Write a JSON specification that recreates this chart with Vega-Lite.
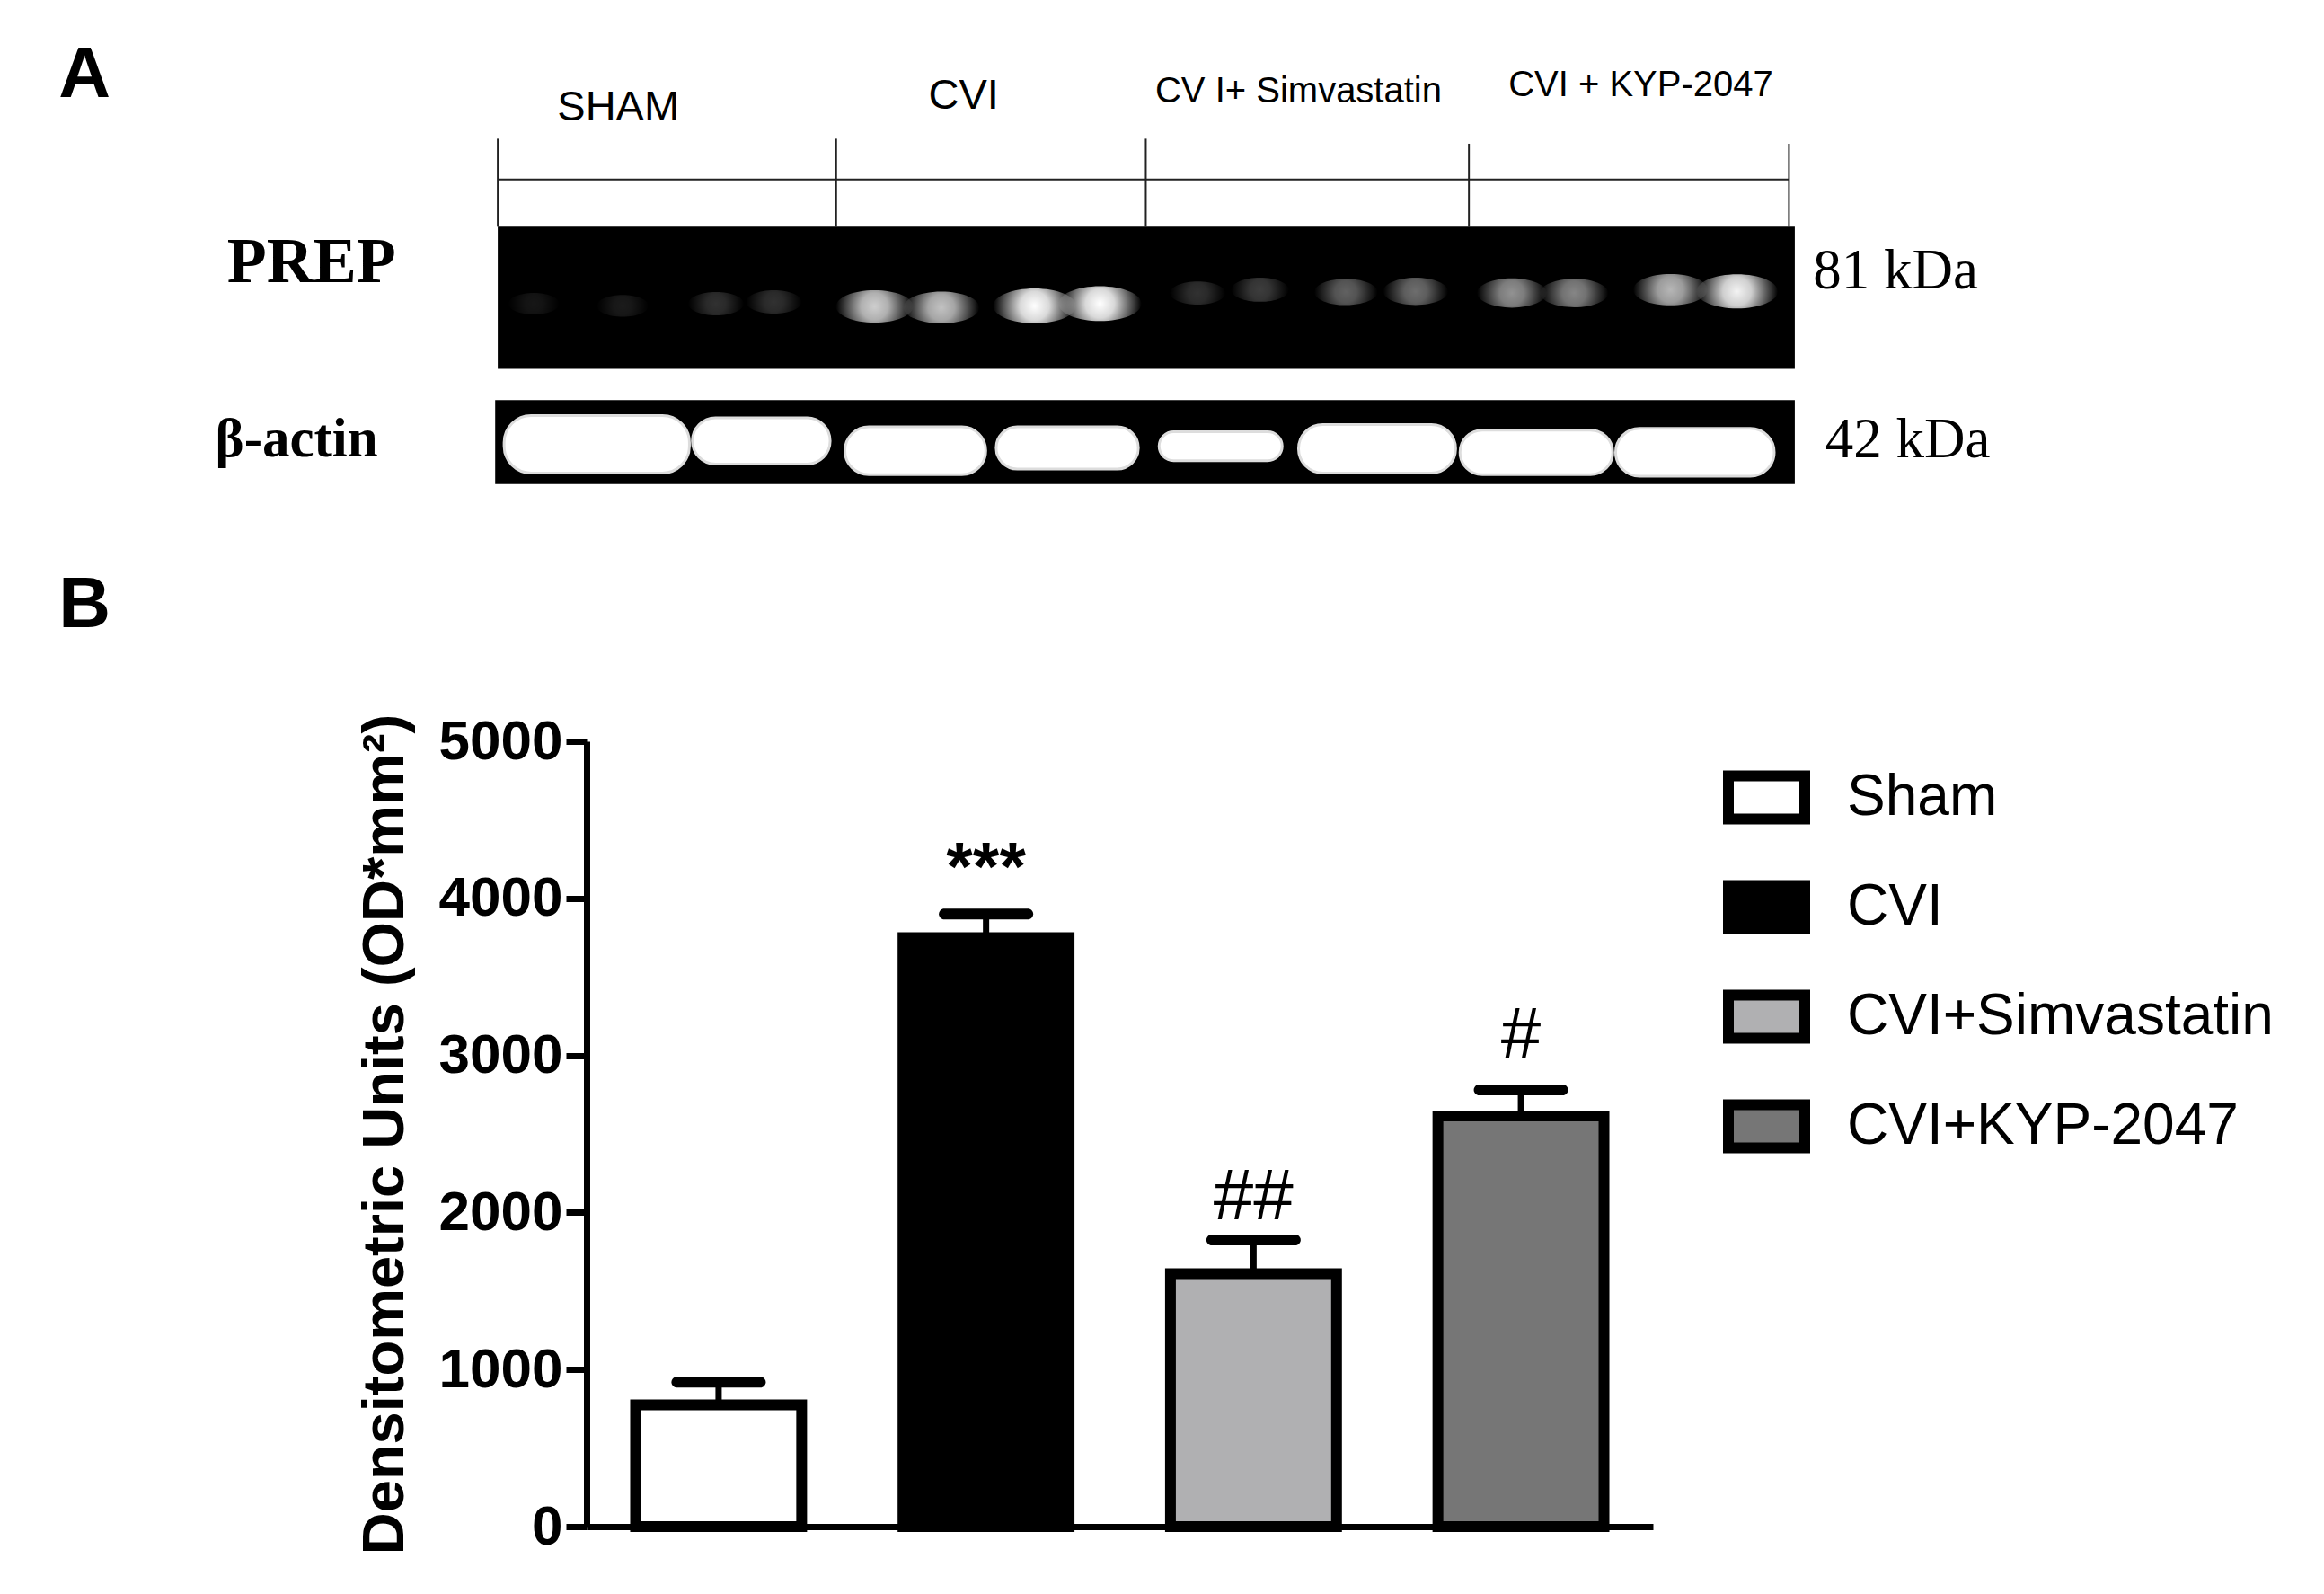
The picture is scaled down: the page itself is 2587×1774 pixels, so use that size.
{
  "$schema": "https://vega.github.io/schema/vega-lite/v6.json",
  "background": "white",
  "padding": {"left": 65, "top": 0, "right": 10, "bottom": 50},
  "bounds": "flush",
  "spacing": 205,
  "config": {
    "view": {"stroke": null},
    "text": {"color": "black"}
  },
  "vconcat": [
    {
      "width": 1187,
      "height": 620,
      "encoding": {
        "x": {"field": "lane", "type": "quantitative", "axis": null, "scale": {"domain": [0.548, 7.125], "nice": false, "zero": false}},
        "y": {"field": "pos", "type": "quantitative", "axis": null, "scale": {"domain": [100, 0], "nice": false, "zero": false}}
      },
      "layer": [
        {
          "data": {"values": [
            {"lane": 0, "lane2": 0, "pos": 24.9, "pos2": 40.7},
            {"lane": 2.087, "lane2": 2.087, "pos": 24.9, "pos2": 40.7},
            {"lane": 3.997, "lane2": 3.997, "pos": 24.9, "pos2": 40.7},
            {"lane": 5.99, "lane2": 5.99, "pos": 25.8, "pos2": 40.7},
            {"lane": 7.964, "lane2": 7.964, "pos": 25.8, "pos2": 40.7},
            {"lane": 0, "lane2": 7.964, "pos": 32.2, "pos2": 32.2}
          ]},
          "mark": {"type": "rule", "stroke": "#222222", "strokeWidth": 2},
          "encoding": {
            "x2": {"field": "lane2"},
            "y2": {"field": "pos2"}
          }
        },
        {
          "data": {"values": [
            {"blot": "PREP", "lane": 0, "lane2": 8, "pos": 40.7, "pos2": 66.2},
            {"blot": "b-actin", "lane": -0.016, "lane2": 8, "pos": 71.8, "pos2": 86.9}
          ]},
          "mark": {"type": "rect", "fill": "black"},
          "encoding": {
            "x2": {"field": "lane2"},
            "y2": {"field": "pos2"}
          }
        },
        {
          "data": {"values": [
            {"lane": 0.222, "pos": 54.5, "intensity": 0.04},
            {"lane": 0.77, "pos": 54.9, "intensity": 0.06},
            {"lane": 1.346, "pos": 54.5, "intensity": 0.15},
            {"lane": 1.703, "pos": 54.2, "intensity": 0.15},
            {"lane": 2.324, "pos": 55, "intensity": 0.8},
            {"lane": 2.736, "pos": 55.2, "intensity": 0.75},
            {"lane": 3.311, "pos": 54.9, "intensity": 1},
            {"lane": 3.714, "pos": 54.5, "intensity": 1},
            {"lane": 4.317, "pos": 52.6, "intensity": 0.15},
            {"lane": 4.701, "pos": 52, "intensity": 0.2},
            {"lane": 5.231, "pos": 52.4, "intensity": 0.35},
            {"lane": 5.661, "pos": 52.3, "intensity": 0.4},
            {"lane": 6.255, "pos": 52.6, "intensity": 0.55},
            {"lane": 6.639, "pos": 52.6, "intensity": 0.5},
            {"lane": 7.233, "pos": 52, "intensity": 0.7},
            {"lane": 7.644, "pos": 52.3, "intensity": 0.95}
          ]},
          "mark": {
            "type": "point",
            "filled": true,
            "shape": "M-1,0A1,0.42,0,1,1,1,0A1,0.42,0,1,1,-1,0Z",
            "fill": {
              "gradient": "radial",
              "stops": [
                {"offset": 0, "color": "rgba(255,255,255,1)"},
                {"offset": 0.35, "color": "rgba(255,255,255,0.85)"},
                {"offset": 1, "color": "rgba(255,255,255,0)"}
              ]
            }
          },
          "encoding": {
            "size": {"field": "intensity", "type": "quantitative", "legend": null, "scale": {"domain": [0, 1], "range": [3000, 8500]}},
            "opacity": {"field": "intensity", "type": "quantitative", "legend": null, "scale": {"domain": [0, 1], "range": [0.05, 1]}}
          }
        },
        {
          "data": {"values": [
            {"lane": 0.039, "lane2": 1.182, "pos": 74.6, "pos2": 84.9},
            {"lane": 1.2, "lane2": 2.05, "pos": 75, "pos2": 83.3},
            {"lane": 2.141, "lane2": 3.01, "pos": 76.6, "pos2": 85.2},
            {"lane": 3.074, "lane2": 3.951, "pos": 76.6, "pos2": 84.2},
            {"lane": 4.079, "lane2": 4.838, "pos": 77.5, "pos2": 82.7},
            {"lane": 4.939, "lane2": 5.908, "pos": 76.2, "pos2": 84.9},
            {"lane": 5.935, "lane2": 6.877, "pos": 77.2, "pos2": 85.2},
            {"lane": 6.895, "lane2": 7.873, "pos": 76.9, "pos2": 85.5}
          ]},
          "mark": {"type": "rect", "fill": "white", "stroke": "#dddddd", "strokeWidth": 3, "cornerRadius": 30},
          "encoding": {
            "x2": {"field": "lane2"},
            "y2": {"field": "pos2"}
          }
        },
        {
          "data": {"values": [
            {"label": "A", "lane": -2.548, "pos": 13.6},
            {"label": "B", "lane": -2.548, "pos": 108.7}
          ]},
          "mark": {"type": "text", "font": "Liberation Sans", "fontWeight": "bold", "fontSize": 80, "baseline": "middle"},
          "encoding": {"text": {"field": "label"}}
        },
        {
          "data": {"values": [
            {"label": "SHAM", "lane": 0.743, "pos": 19.4},
            {"label": "CVI", "lane": 2.873, "pos": 17.3}
          ]},
          "mark": {"type": "text", "font": "Liberation Sans", "fontSize": 47, "baseline": "middle"},
          "encoding": {"text": {"field": "label"}}
        },
        {
          "data": {"values": [
            {"label": "CV I+ Simvastatin", "lane": 4.939, "pos": 16.5},
            {"label": "CVI + KYP-2047", "lane": 7.05, "pos": 15.4}
          ]},
          "mark": {"type": "text", "font": "Liberation Sans", "fontSize": 40, "baseline": "middle"},
          "encoding": {"text": {"field": "label"}}
        },
        {
          "data": {"values": [{"label": "PREP", "lane": -1.149, "pos": 47.1}]},
          "mark": {"type": "text", "font": "Liberation Serif", "fontWeight": "bold", "fontSize": 72, "baseline": "middle"},
          "encoding": {"text": {"field": "label"}}
        },
        {
          "data": {"values": [{"label": "β-actin", "lane": -1.241, "pos": 79}]},
          "mark": {"type": "text", "font": "Liberation Serif", "fontWeight": "bold", "fontSize": 61, "baseline": "middle"},
          "encoding": {"text": {"field": "label"}}
        },
        {
          "data": {"values": [
            {"label": "81 kDa", "lane": 8.622, "pos": 48.7},
            {"label": "42 kDa", "lane": 8.696, "pos": 79}
          ]},
          "mark": {"type": "text", "font": "Liberation Serif", "fontSize": 63, "baseline": "middle"},
          "encoding": {"text": {"field": "label"}}
        }
      ]
    },
    {
      "width": 1187,
      "height": 874,
      "data": {"values": [
        {"group": "Sham", "mean": 775, "upper": 920},
        {"group": "CVI", "mean": 3750, "upper": 3900, "sig": "***", "sig_y": 4190},
        {"group": "CVI+Simvastatin", "mean": 1610, "upper": 1825, "sig": "##", "sig_y": 2092},
        {"group": "CVI+KYP-2047", "mean": 2615, "upper": 2780, "sig": "#", "sig_y": 3122}
      ]},
      "encoding": {
        "x": {
          "field": "group",
          "type": "nominal",
          "sort": null,
          "title": null,
          "scale": {"paddingInner": 0.379, "paddingOuter": 0.183},
          "axis": {"labels": false, "ticks": false, "domainColor": "black", "domainWidth": 7, "grid": false, "zindex": 1}
        }
      },
      "layer": [
        {
          "mark": {"type": "rule", "stroke": "black", "strokeWidth": 7},
          "encoding": {
            "y": {"field": "mean", "type": "quantitative"},
            "y2": {"field": "upper"}
          }
        },
        {
          "mark": {"type": "tick", "orient": "horizontal", "color": "black", "opacity": 1, "size": 105, "thickness": 12, "cornerRadius": 6},
          "encoding": {
            "y": {"field": "upper", "type": "quantitative"}
          }
        },
        {
          "mark": {"type": "bar", "stroke": "black", "strokeWidth": 12, "strokeJoin": "miter", "opacity": 1},
          "encoding": {
            "y": {
              "field": "mean",
              "type": "quantitative",
              "title": "Densitometric Units (OD*mm²)",
              "scale": {"domain": [0, 5000], "nice": false},
              "axis": {
                "values": [0, 1000, 2000, 3000, 4000, 5000],
                "format": "d",
                "grid": false,
                "domainColor": "black",
                "domainWidth": 7,
                "tickColor": "black",
                "tickWidth": 7,
                "tickSize": 23,
                "labelColor": "black",
                "labelFont": "Liberation Sans",
                "labelFontWeight": "bold",
                "labelFontSize": 62,
                "labelPadding": 4,
                "titleColor": "black",
                "titleFont": "Liberation Sans",
                "titleFontWeight": "bold",
                "titleFontSize": 65,
                "titlePadding": 26
              }
            },
            "fill": {
              "field": "group",
              "type": "nominal",
              "sort": null,
              "scale": {
                "domain": ["Sham", "CVI", "CVI+Simvastatin", "CVI+KYP-2047"],
                "range": ["#ffffff", "#000000", "#b0b0b2", "#767676"]
              },
              "legend": {
                "title": null,
                "orient": "none",
                "legendX": 1265,
                "legendY": 839,
                "symbolType": "M-1,-0.565H1V0.565H-1Z",
                "symbolSize": 7225,
                "symbolStrokeColor": "black",
                "symbolStrokeWidth": 12,
                "labelFont": "Liberation Sans",
                "labelFontSize": 64,
                "labelColor": "black",
                "labelOffset": 41,
                "labelLimit": 600,
                "rowPadding": 25
              }
            }
          }
        },
        {
          "transform": [{"filter": "datum.sig == '***'"}],
          "mark": {"type": "text", "font": "Liberation Sans", "fontWeight": "bold", "fontSize": 76, "baseline": "middle", "color": "black"},
          "encoding": {
            "y": {"field": "sig_y", "type": "quantitative"},
            "text": {"field": "sig"}
          }
        },
        {
          "transform": [{"filter": "datum.sig == '##' || datum.sig == '#'"}],
          "mark": {"type": "text", "font": "Liberation Sans", "fontSize": 80, "baseline": "middle", "color": "black"},
          "encoding": {
            "y": {"field": "sig_y", "type": "quantitative"},
            "text": {"field": "sig"}
          }
        }
      ]
    }
  ]
}
